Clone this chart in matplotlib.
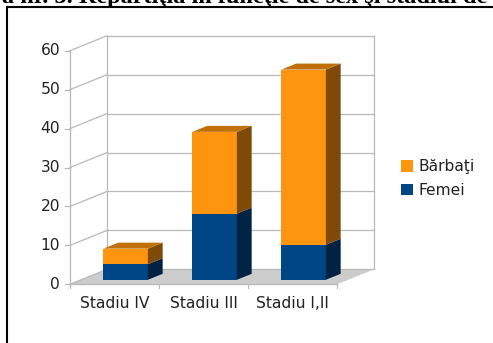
"""Stacked pseudo-3D bars: patients by sex and disease stage."""
import matplotlib
matplotlib.use("Agg")
import matplotlib.pyplot as plt
from matplotlib.patches import Polygon, Patch
from matplotlib.lines import Line2D

STAGES = ["Stadiu IV", "Stadiu III", "Stadiu I,II"]
FEMEI = [4, 17, 9]
BARBATI = [4, 21, 45]
Y_TICKS = [0, 10, 20, 30, 40, 50, 60]
SERIES = ["Bărbaţi", "Femei"]
TITLE = "Figura nr. 3. Repartiţia în funcţie de sex şi stadiul de boală"

# face colours: front, side, top
ORANGE = ("#ff950e", "#7f4a07", "#c0700b")
BLUE = ("#004586", "#002343", "#00335f")
GRID = "#b8b8b8"
FLOOR = "#cccccc"
TXT = "#222222"

W, H, DPI = 493, 343, 100
# depth of the box in data units (x: categories, y: values)
DX, DY = 0.416, 3.85
Z0, Z1 = 0.3, 0.7      # bar depth inside the box
BAR_W = 0.5
FS = 11.2


def px_to_data(px, py):
    # full-figure axes; front origin sits at pixel (70, 284.3)
    return (px - 70) / 89.0, (284.3 - py) / 3.893


def box(ax, x0, x1, y0, y1, colors, top=True):
    f, s, t = colors
    def p(x, y, z):
        return (x + z * DX, y + z * DY)
    front = [p(x0, y0, Z0), p(x1, y0, Z0), p(x1, y1, Z0), p(x0, y1, Z0)]
    side = [p(x1, y0, Z0), p(x1, y0, Z1), p(x1, y1, Z1), p(x1, y1, Z0)]
    ax.add_patch(Polygon(front, closed=True, fc=f, ec="none", zorder=5))
    ax.add_patch(Polygon(side, closed=True, fc=s, ec="none", zorder=5))
    if top:
        lid = [p(x0, y1, Z0), p(x1, y1, Z0), p(x1, y1, Z1), p(x0, y1, Z1)]
        ax.add_patch(Polygon(lid, closed=True, fc=t, ec="none", zorder=5))


def main():
    fig = plt.figure(figsize=(W / DPI, H / DPI), dpi=DPI)
    ax = fig.add_axes([0, 0, 1, 1])
    xl, yb = px_to_data(0, H)
    xr, yt = px_to_data(W, 0)
    ax.set_xlim(xl, xr)
    ax.set_ylim(yb, yt)
    ax.axis("off")

    n = len(STAGES)
    top = Y_TICKS[-1]

    # floor
    ax.add_patch(Polygon([(0, 0), (n, 0), (n + DX, DY), (DX, DY)],
                         closed=True, fc=FLOOR, ec="none", zorder=1))

    # back wall and left wall grid
    for v in Y_TICKS:
        ax.plot([DX, n + DX], [v + DY, v + DY], color=GRID, lw=0.9, zorder=2)
        ax.plot([0, DX], [v, v + DY], color=GRID, lw=0.9, zorder=2)
        ax.plot([-0.056, 0], [v, v], color=GRID, lw=0.9, zorder=2)
        ax.text(-0.11, v, str(v), ha="right", va="center", fontsize=FS, color=TXT)
    for x in (DX, n + DX):
        ax.plot([x, x], [DY, top + DY], color=GRID, lw=0.9, zorder=2)
    ax.plot([0, 0], [0, top], color=GRID, lw=0.9, zorder=2)

    # front x axis
    ax.plot([0, n], [0, 0], color=GRID, lw=0.9, zorder=3)
    for i in range(n + 1):
        ax.plot([i, i], [0, -1.05], color=GRID, lw=0.9, zorder=3)

    for i, (stage, f, b) in enumerate(zip(STAGES, FEMEI, BARBATI)):
        x0 = i + (1 - BAR_W) / 2
        x1 = x0 + BAR_W
        box(ax, x0, x1, 0, f, BLUE, top=False)
        box(ax, x0, x1, f, f + b, ORANGE, top=True)
        ax.text(i + 0.5, -6.0, stage, ha="center", va="baseline",
                fontsize=FS, color=TXT)

    handles = [Patch(fc=ORANGE[0], ec="none"), Patch(fc=BLUE[0], ec="none")]
    leg = ax.legend(handles, SERIES, loc="center left", frameon=False,
                    bbox_to_anchor=(401 / W, 1 - 178.75 / H),
                    fontsize=FS, handlelength=0.78, handleheight=0.72,
                    handletextpad=0.33, labelspacing=0.55,
                    borderpad=0, borderaxespad=0)
    for t in leg.get_texts():
        t.set_color(TXT)

    # document frame and the caption line above it (runs past the page edge)
    fig.add_artist(Line2D([7 / W, 7 / W, 1], [0, 1 - 6.5 / H, 1 - 6.5 / H],
                          color="black", lw=1.5, solid_joinstyle="miter"))
    fig.text(-56 / W, 1 - 3 / H, TITLE, ha="left", va="baseline",
             fontsize=17.5, fontweight="bold", family="Liberation Serif")

    fig.savefig("out.png", dpi=DPI)
    plt.close(fig)


if __name__ == "__main__":
    main()
